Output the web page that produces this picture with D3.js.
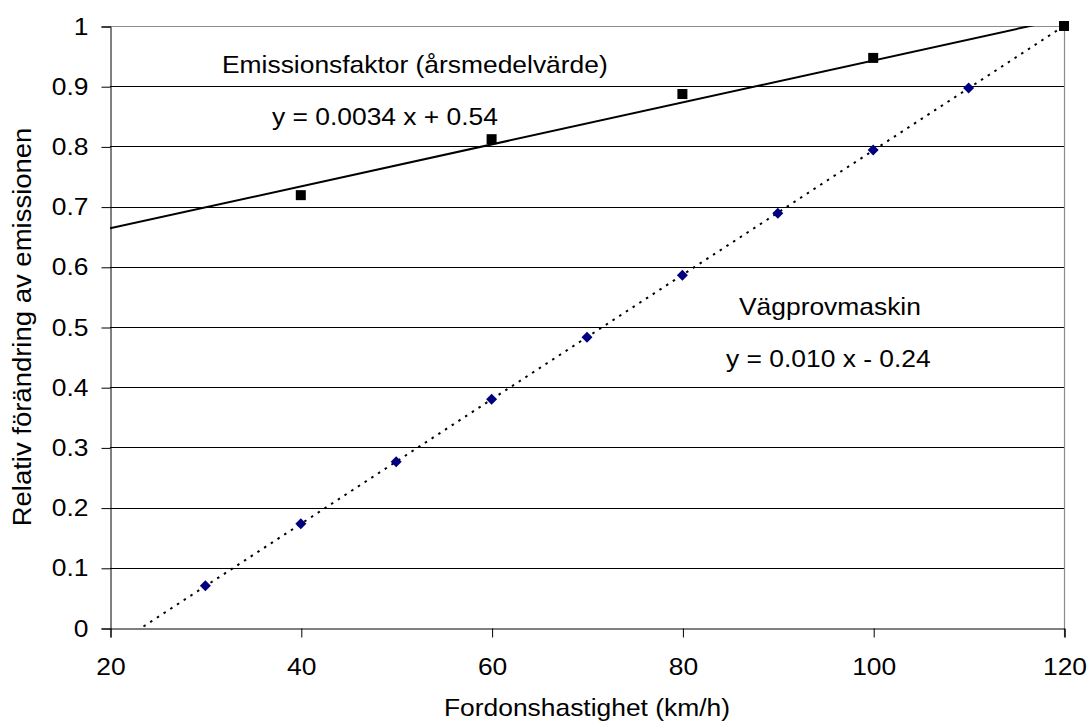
<!DOCTYPE html>
<html>
<head>
<meta charset="utf-8">
<script src="https://cdn.jsdelivr.net/npm/d3@7"></script>
<style>
  html, body { margin: 0; padding: 0; background: #fff; }
  svg text { font-family: "Liberation Sans", Arial, sans-serif; fill: #000; }
</style>
</head>
<body>
<svg id="chart" width="1089" height="721"></svg>
<script>
// Emission factor (annual mean) relative to 120 km/h
const emisSpeed = [40, 60, 80, 100, 120];
const emisValue = [0.719, 0.812, 0.887, 0.947, 1.0];

// Road test machine measurements
const vagSpeed = [30, 40, 50, 60, 70, 80, 90, 100, 110];
const vagValue = [0.070, 0.173, 0.276, 0.380, 0.483, 0.586, 0.689, 0.794, 0.897];

const xTicks = [20, 40, 60, 80, 100, 120];
const yTicks = [0, 0.1, 0.2, 0.3, 0.4, 0.5, 0.6, 0.7, 0.8, 0.9, 1];

const labels = {
  xTitle: "Fordonshastighet (km/h)",
  yTitle: "Relativ förändring av emissionen",
  emis: "Emissionsfaktor (årsmedelvärde)",
  emisEq: "y = 0.0034 x + 0.54",
  vag: "Vägprovmaskin",
  vagEq: "y = 0.010 x - 0.24"
};

const svg = d3.select("#chart");
const pLeft = 110, pRight = 1064, pTop = 26, pBottom = 628;
const fs = 24, stretch = 1.1;
const fontFam = '"Liberation Sans", Arial, sans-serif';

const x = d3.scaleLinear().domain([20, 120]).range([pLeft, pRight]);
const y = d3.scaleLinear().domain([0, 1]).range([pBottom, pTop]);

// least-squares trend line
function fit(xs, ys) {
  const mx = d3.mean(xs), my = d3.mean(ys);
  let sxy = 0, sxx = 0;
  xs.forEach((v, i) => { sxy += (v - mx) * (ys[i] - my); sxx += (v - mx) * (v - mx); });
  const b = sxy / sxx;
  return { slope: b, intercept: my - b * mx };
}

function label(txt, px, py, anchor, rot, size) {
  return svg.append("text")
    .attr("font-size", size || fs)
    .attr("text-anchor", anchor || "start")
    .attr("transform", `translate(${px},${py}) rotate(${rot || 0}) scale(${stretch},1)`)
    .text(txt);
}

// horizontal gridlines
svg.append("g").selectAll("line")
  .data(yTicks.filter(d => d > 0 && d < 1))
  .join("line")
  .attr("x1", pLeft).attr("x2", pRight)
  .attr("y1", d => Math.round(y(d)) + 0.5).attr("y2", d => Math.round(y(d)) + 0.5)
  .attr("stroke", "#000").attr("stroke-width", 1);

// top and right borders of the plot area
svg.append("line").attr("x1", pLeft).attr("x2", pRight + 0.5)
  .attr("y1", pTop + 0.5).attr("y2", pTop + 0.5).attr("stroke", "#8c8c8c").attr("stroke-width", 1.2);
svg.append("line").attr("x1", pRight + 0.5).attr("x2", pRight + 0.5)
  .attr("y1", pTop).attr("y2", pBottom + 9).attr("stroke", "#8c8c8c").attr("stroke-width", 1.2);

// y axis
const yAxis = d3.axisLeft(y).tickValues(yTicks).tickSize(9).tickPadding(12)
  .tickFormat(d3.format("~g"));
const gy = svg.append("g").attr("transform", `translate(${pLeft + 0.5},0.5)`).call(yAxis);
gy.select(".domain").attr("stroke", "#000");
gy.selectAll(".tick line").attr("stroke", "#000");
gy.selectAll(".tick text").attr("font-size", fs)
  .attr("font-family", fontFam).attr("fill", "#000")
  .attr("x", 0)
  .attr("transform", `translate(-22,0) scale(${stretch},1)`);

// x axis
const xAxis = d3.axisBottom(x).tickValues(xTicks).tickSize(9).tickPadding(20);
const gx = svg.append("g").attr("transform", `translate(0.5,${pBottom + 0.5})`).call(xAxis);
gx.select(".domain").attr("stroke", "#000");
gx.selectAll(".tick line").attr("stroke", "#000");
gx.selectAll(".tick text").attr("font-size", fs)
  .attr("font-family", fontFam).attr("fill", "#000")
  .attr("transform", `scale(${stretch},1)`);

// clip for trend lines
svg.append("clipPath").attr("id", "plot")
  .append("rect").attr("x", pLeft).attr("y", pTop)
  .attr("width", pRight - pLeft).attr("height", pBottom - pTop);

const emisFit = fit(emisSpeed, emisValue);
const vagFit = fit(vagSpeed, vagValue);
const line = d3.line().x(d => x(d[0])).y(d => y(d[1]));

svg.append("path")
  .attr("clip-path", "url(#plot)")
  .attr("d", line([20, 120].map(v => [v, emisFit.intercept + emisFit.slope * v])))
  .attr("fill", "none").attr("stroke", "#000").attr("stroke-width", 2);

svg.append("path")
  .attr("clip-path", "url(#plot)")
  .attr("d", line([20, 120].map(v => [v, vagFit.intercept + vagFit.slope * v])))
  .attr("fill", "none").attr("stroke", "#000").attr("stroke-width", 2)
  .attr("stroke-dasharray", "2.5,5.5");

// markers
const sq = 10;
svg.append("g").selectAll("rect")
  .data(emisSpeed.map((s, i) => [s, emisValue[i]]))
  .join("rect")
  .attr("x", d => x(d[0]) - sq / 2).attr("y", d => y(d[1]) - sq / 2)
  .attr("width", sq).attr("height", sq).attr("fill", "#000");

const dm = 5.5;
svg.append("g").selectAll("path")
  .data(vagSpeed.map((s, i) => [s, vagValue[i]]))
  .join("path")
  .attr("d", d => {
    const cx = x(d[0]), cy = y(d[1]);
    return `M${cx},${cy - dm}L${cx + dm},${cy}L${cx},${cy + dm}L${cx - dm},${cy}Z`;
  })
  .attr("fill", "#000080");

// annotations
label(labels.emis, 222, 73);
label(labels.emisEq, 272, 125);
label(labels.vag, 739, 315);
label(labels.vagEq, 726, 367);

// axis titles
label(labels.xTitle, (pLeft + pRight) / 2, 716, "middle");
label(labels.yTitle, 31, (pTop + pBottom) / 2, "middle", -90, 25);
</script>
</body>
</html>
